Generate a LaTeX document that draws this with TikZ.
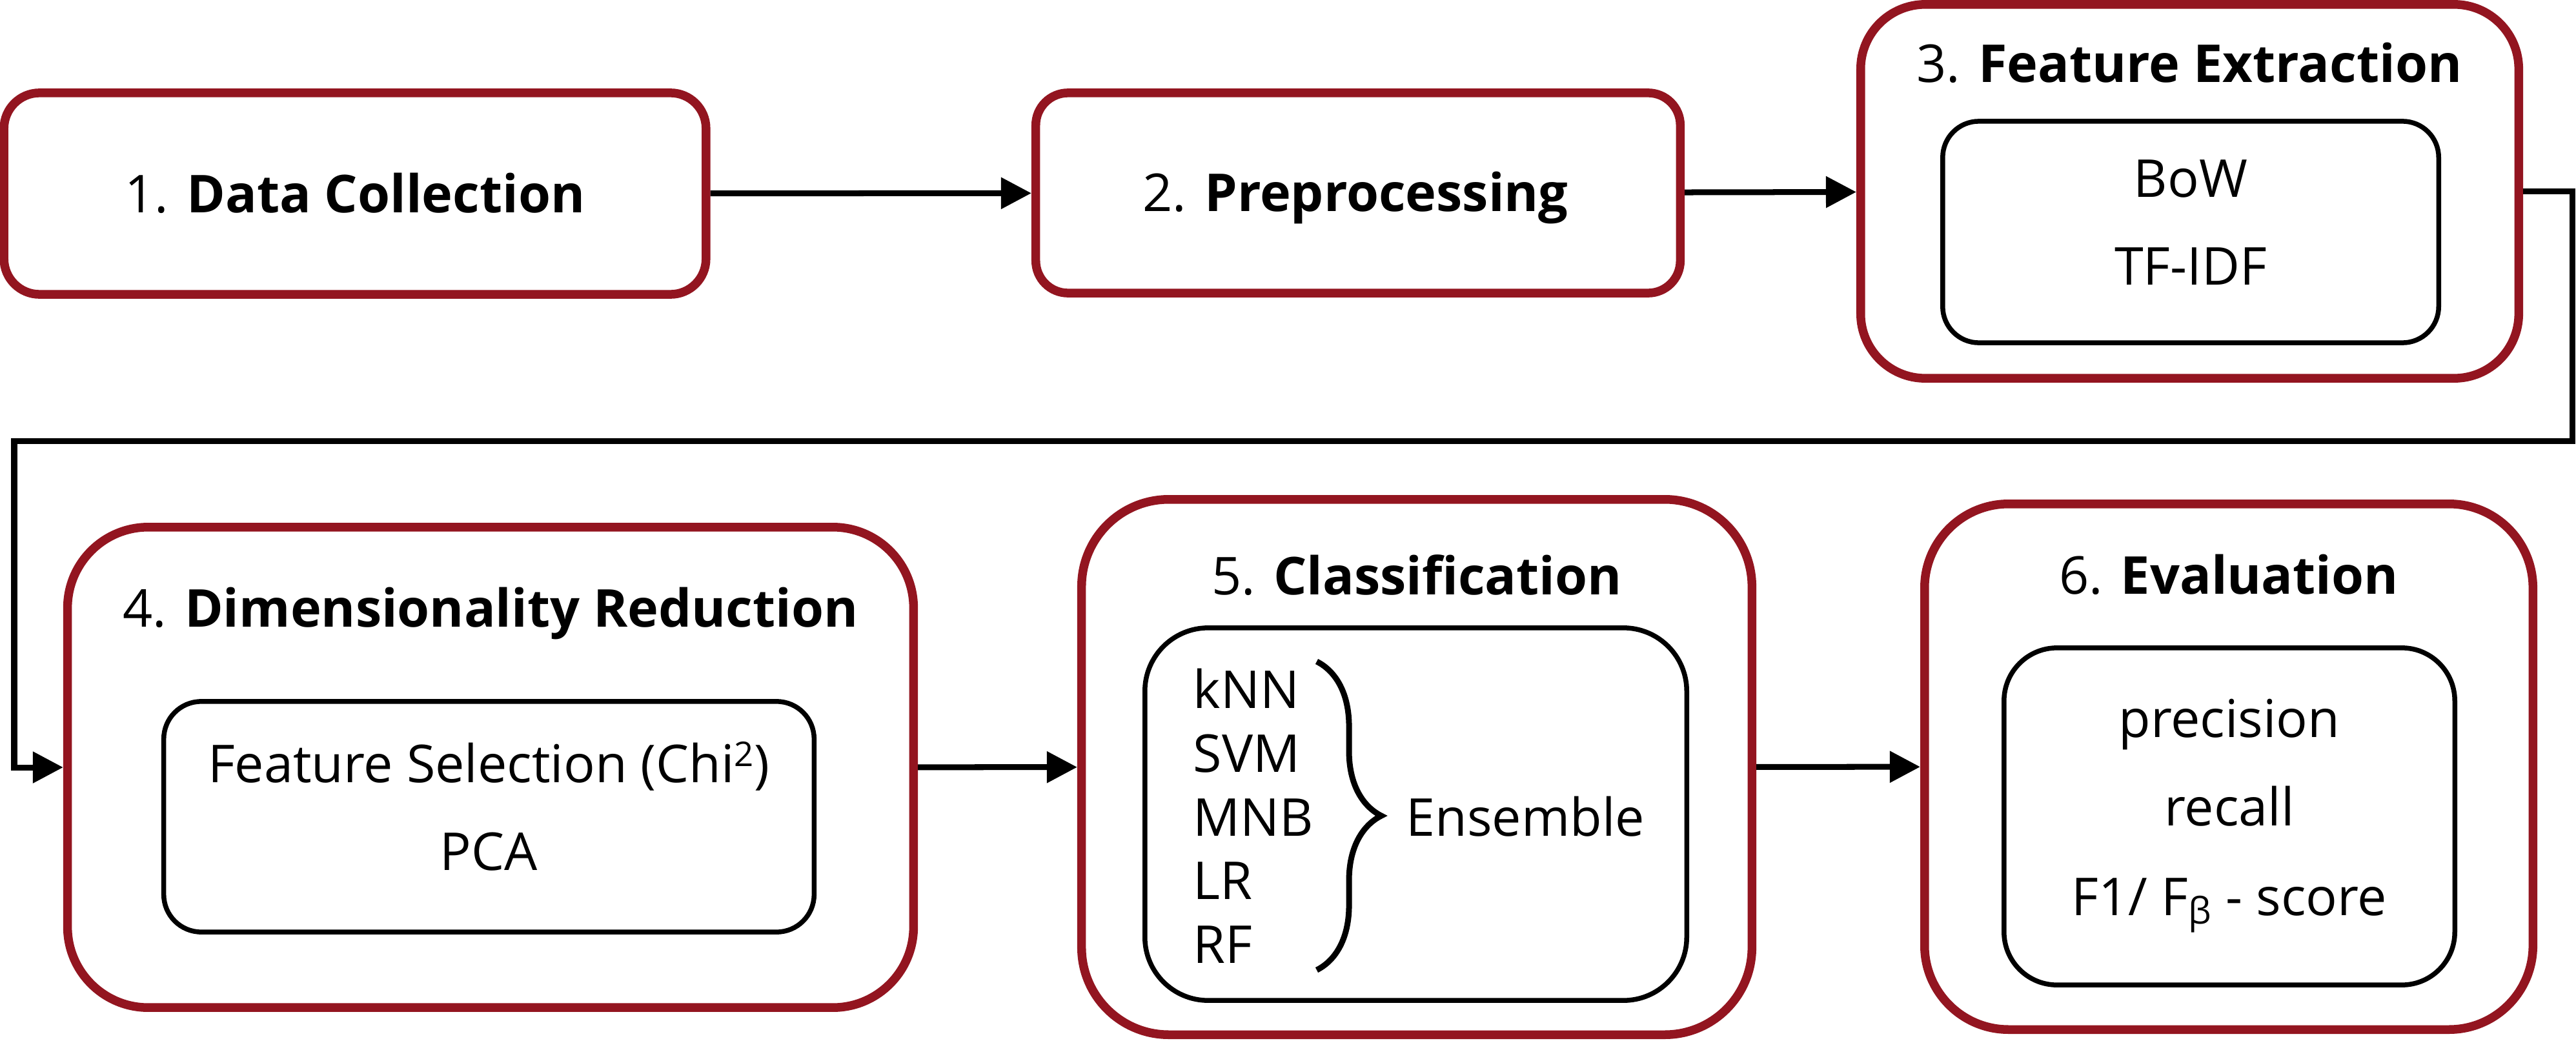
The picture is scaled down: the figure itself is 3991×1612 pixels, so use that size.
\documentclass[tikz,border=0pt]{standalone}
\usepackage{fontspec}
\setmainfont{Open Sans}
\usetikzlibrary{arrows.meta,decorations.pathreplacing}
\definecolor{boxred}{RGB}{147,21,32}
\begin{document}
\begin{tikzpicture}[x=0.01cm,y=-0.01cm,
  outerbox/.style={draw=boxred,line width=0.135cm,fill=white,inner sep=0pt},
  innerbox/.style={draw=black,line width=0.075cm,inner sep=0pt},
  txt/.style={inner sep=0pt,anchor=base,font=\fontsize{23pt}{28pt}\selectfont},
  txtl/.style={inner sep=0pt,anchor=base west,font=\fontsize{23pt}{28pt}\selectfont},
  conn/.style={draw=black,line width=0.09cm,-{Triangle[length=0.47cm,width=0.47cm]}},
  bracestyle/.style={draw=black,line width=0.09cm,decorate,decoration={brace,amplitude=1.0cm}}
]
\useasboundingbox (0,0) rectangle (3991,1612);

% outer boxes
\node[outerbox,rounded corners=0.55cm,minimum width=10.87cm,minimum height=3.12cm] (b1) at (550,300) {};
\node[outerbox,rounded corners=0.5cm,minimum width=9.98cm,minimum height=3.10cm] (b2) at (2104,299) {};
\node[outerbox,rounded corners=1.0cm,minimum width=10.19cm,minimum height=5.79cm] (b3) at (3392.5,296.5) {};
\node[outerbox,rounded corners=1.25cm,minimum width=13.10cm,minimum height=7.44cm] (b4) at (760,1189) {};
\node[outerbox,rounded corners=1.35cm,minimum width=10.38cm,minimum height=8.29cm] (b5) at (2195,1188.5) {};
\node[outerbox,rounded corners=1.30cm,minimum width=9.42cm,minimum height=8.14cm] (b6) at (3453,1188) {};

% inner boxes
\node[innerbox,rounded corners=0.56cm,minimum width=7.68cm,minimum height=3.43cm] (i3) at (3394,359.5) {};
\node[innerbox,rounded corners=0.58cm,minimum width=10.07cm,minimum height=3.57cm] (i4) at (757.5,1265.5) {};
\node[innerbox,rounded corners=0.98cm,minimum width=8.39cm,minimum height=5.77cm] (i5) at (2193.5,1261.5) {};
\node[innerbox,rounded corners=0.82cm,minimum width=6.98cm,minimum height=5.22cm] (i6) at (3454,1265) {};

% texts
\node[txt] (t1) at (550,329) {1. \textbf{Data Collection}};
\node[txt] (t2) at (2100,327) {2. \textbf{Preprocessing}};
\node[txt] (t3) at (3392,127) {3. \textbf{Feature Extraction}};
\node[txt] (bow) at (3394,305) {BoW};
\node[txt] (tfidf) at (3394,441) {TF-IDF};
\node[txt] (t4) at (760,971) {4. \textbf{Dimensionality Reduction}};
\node[txt] (fs) at (757,1212) {Feature Selection (Chi\raisebox{0.25cm}{\fontsize{15pt}{15pt}\selectfont 2})};
\node[txt] (pca) at (757,1348) {PCA};
\node[txt] (t5) at (2195,921) {5. \textbf{Classification}};
\node[txtl] (knn) at (1848,1097) {kNN};
\node[txtl] (svm) at (1848,1196) {SVM};
\node[txtl] (mnb) at (1848,1295) {MNB};
\node[txtl] (lr) at (1848,1393) {LR};
\node[txtl] (rf) at (1848,1492) {RF};
\node[txtl] (ens) at (2178,1295) {Ensemble};
\node[txt] (t6) at (3453,920) {6. \textbf{Evaluation}};
\node[txt] (prec) at (3454,1142) {precision};
\node[txt] (rec) at (3454,1279) {recall};
\node[txt] (f1) at (3454,1418) {F1/ F\textsubscript{β} - score};

% brace
\coordinate (brtop) at (2040,1025);
\coordinate (brbot) at (2040,1503);
\draw[bracestyle] (brtop) -- (brbot);

% connectors
\coordinate (c1) at (3985,296.5);
\coordinate (c2) at (3985,683);
\coordinate (c3) at (22,683);
\coordinate (c4) at (22,1189);
\draw[conn] (b1) -- (b2);
\draw[conn] (b2) -- (b3);
\draw[conn] (b3.east) -- (c1) -- (c2) -- (c3) -- (c4) -- (b4.west);
\draw[conn] (b4) -- (b5);
\draw[conn] (b5) -- (b6);
\end{tikzpicture}
\end{document}
